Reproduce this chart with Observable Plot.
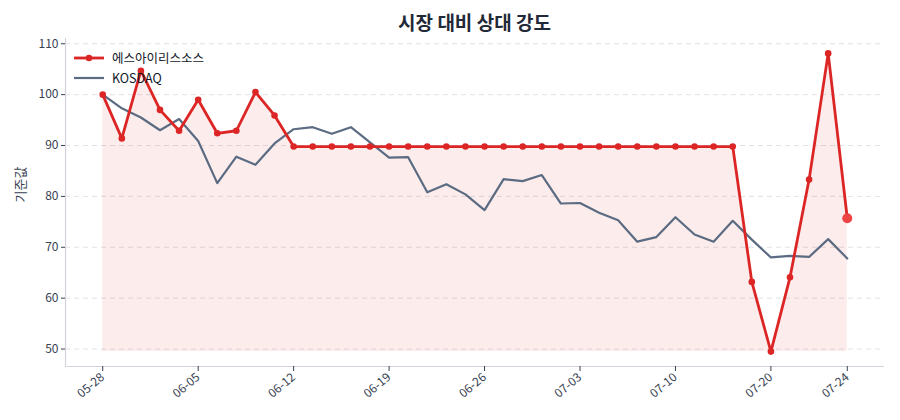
<!DOCTYPE html>
<html>
<head>
<meta charset="utf-8">
<script src="https://cdn.jsdelivr.net/npm/d3@7"></script>
<script src="https://cdn.jsdelivr.net/npm/@observablehq/plot@0.6"></script>
<style>
  html, body { margin: 0; padding: 0; background: #fff; }
  #wrap { position: relative; width: 900px; height: 420px; font-family: "Noto Sans CJK KR", "Noto Sans", sans-serif; }
  #title { position: absolute; left: 65px; width: 819px; top: 8px; text-align: center; font-size: 19px; font-weight: 700; color: #1f2937; }
  #legend { position: absolute; left: 74px; top: 48px; font-size: 12.5px; color: #111827; line-height: 20px; }
  #legend .item { display: flex; align-items: center; height: 20px; }
  #legend svg { margin-right: 8px; }
</style>
</head>
<body>
<div id="wrap">
  <div id="title">시장 대비 상대 강도</div>
  <div id="chart"></div>
  <div id="legend"></div>
</div>
<script>
const dates = ["05-28","05-29","05-30","06-02","06-04","06-05","06-06","06-09","06-10","06-11",
  "06-12","06-13","06-16","06-17","06-18","06-19","06-20","06-23","06-24","06-25",
  "06-26","06-27","06-30","07-01","07-02","07-03","07-04","07-07","07-08","07-09",
  "07-10","07-11","07-14","07-15","07-17","07-20","07-21","07-22","07-23","07-24"];
const stockName = "에스아이리스소스";
const stockValues = [100,91.4,104.7,97.0,92.9,99.0,92.4,92.9,100.5,95.9,
  89.8,89.8,89.8,89.8,89.8,89.8,89.8,89.8,89.8,89.8,
  89.8,89.8,89.8,89.8,89.8,89.8,89.8,89.8,89.8,89.8,
  89.8,89.8,89.8,89.8,63.2,49.5,64.1,83.3,108.1,75.7];
const indexName = "KOSDAQ";
const indexValues = [100,97.3,95.5,93.0,95.2,90.9,82.6,87.8,86.2,90.4,
  93.2,93.6,92.3,93.6,90.6,87.6,87.7,80.8,82.4,80.4,
  77.3,83.4,83.0,84.2,78.6,78.7,76.8,75.3,71.1,72.0,
  75.9,72.5,71.1,75.2,71.5,68.0,68.3,68.1,71.6,67.8];
const xTickIdx = [0,5,10,15,20,25,30,35,39];
const yTicks = [50,60,70,80,90,100,110];
const yAxisLabel = "기준값";

const RED = "#dc2626", SLATE = "#5b6b82";
const data = dates.map((d, i) => ({i, date: d, stock: stockValues[i], index: indexValues[i]}));
const n = data.length;
const allVals = stockValues.concat(indexValues);
const vMin = d3.min(allVals), vMax = d3.max(allVals);
const yPad = (vMax - vMin) * 0.05;
const xPad = (n - 1) * 0.05;
const stockMin = d3.min(stockValues);

const chart = Plot.plot({
  width: 900, height: 420,
  marginLeft: 65, marginRight: 16, marginTop: 38, marginBottom: 54,
  style: {fontFamily: "'Noto Sans CJK KR', 'Noto Sans', sans-serif", fontSize: "12px", color: "#4b5563", background: "transparent"},
  x: {domain: [-xPad, n - 1 + xPad]},
  y: {domain: [vMin - yPad, vMax + yPad]},
  marks: [
    Plot.gridY(yTicks, {stroke: "#d8dbe0", strokeOpacity: 0.8, strokeDasharray: "5,4"}),
    Plot.areaY(data, {x: "i", y1: () => stockMin, y2: "stock", fill: RED, fillOpacity: 0.085}),
    Plot.line(data, {x: "i", y: "index", stroke: SLATE, strokeWidth: 2.2}),
    Plot.line(data, {x: "i", y: "stock", stroke: RED, strokeWidth: 2.8}),
    Plot.dot(data.slice(0, n - 1), {x: "i", y: "stock", r: 3.3, fill: RED}),
    Plot.dot(data.slice(n - 1), {x: "i", y: "stock", r: 5, fill: "#ef4444"}),
    Plot.ruleY([vMin - yPad], {stroke: "#d1d5db", strokeWidth: 1.2}),
    Plot.ruleX([-xPad], {stroke: "#d1d5db", strokeWidth: 1.2}),
    Plot.axisY(yTicks, {tickSize: 4, tickPadding: 3, stroke: "#374151", fill: "#374151", label: null}),
    Plot.text([yAxisLabel], {frameAnchor: "left", dx: -45, rotate: -90, fontSize: 13, fill: "#374151"}),
    Plot.axisX(xTickIdx, {tickSize: 5, tickPadding: 4, tickRotate: -40, stroke: "#374151", fill: "#374151", tickFormat: i => dates[i], label: null})
  ]
});
document.getElementById("chart").appendChild(chart);

const legend = document.getElementById("legend");
legend.innerHTML = `
  <div class="item"><svg width="30" height="12"><line x1="0" y1="6" x2="30" y2="6" stroke="${RED}" stroke-width="2.8"/><circle cx="15" cy="6" r="3.3" fill="${RED}"/></svg><span>${stockName}</span></div>
  <div class="item"><svg width="30" height="12"><line x1="0" y1="6" x2="30" y2="6" stroke="${SLATE}" stroke-width="2.2"/></svg><span>${indexName}</span></div>`;
</script>
</body>
</html>
